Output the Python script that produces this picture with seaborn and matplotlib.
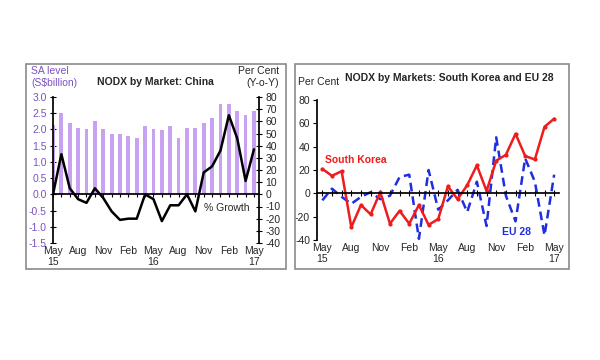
import numpy as np
import pandas as pd
import matplotlib.pyplot as plt
import matplotlib.patches as mpatches
import seaborn as sns

# months May 15 .. May 17
months = list(range(25))
tick_pos = [0, 3, 6, 9, 12, 15, 18, 21, 24]
tick_lab = ['May\n15', 'Aug', 'Nov', 'Feb', 'May\n16', 'Aug', 'Nov', 'Feb', 'May\n17']

# China: level (S$bn) and y-o-y growth (%)
china_level = [2.15, 2.5, 2.2, 2.05, 2.0, 2.25, 2.02, 1.85, 1.85, 1.8, 1.73, 2.12, 2.0,
               1.98, 2.1, 1.75, 2.05, 2.05, 2.2, 2.35, 2.78, 2.78, 2.58, 2.45, 2.58]
china_growth = [0, 33, 5, -4, -7, 5, -3, -14, -21, -20, -20, 0, -4,
                -22, -9, -9, 0, -14, 18, 23, 36, 65, 46, 11, 37]

# South Korea and EU 28 growth (%)
skorea = [21, 15, 19, -29, -10, -18, 1, -26, -15, -26, -10, -27, -22,
          6, -5, 7, 24, 2, 28, 33, 51, 32, 29, 57, 64]
eu28 = [-6, 4, -3, -9, -3, 1, -5, -2, 14, 16, -39, 20, -14,
        -6, 3, -16, 10, -28, 48, -2, -24, 30, 10, -36, 16]

sns.set_theme(style='white')
plt.rcParams['font.family'] = ['Liberation Sans', 'DejaVu Sans']
plt.rcParams['axes.unicode_minus'] = False

purple = '#c8a2f2'
purple_txt = '#7b52c2'
fs = 7.5

fig = plt.figure(figsize=(6, 3.6), dpi=100)
W, H = 600, 360

# grey frames round each panel
for x0, x1 in [(26, 286), (295, 569)]:
    fig.patches.append(mpatches.Rectangle((x0 / W, 1 - 269 / H), (x1 - x0) / W, 205 / H,
                                          transform=fig.transFigure, fill=False,
                                          edgecolor='#8a8a8a', lw=1.2))


def zero_axis(ax, xlim):
    ax.set_xlim(*xlim)
    ax.spines['top'].set_visible(False)
    ax.spines['bottom'].set_position(('data', 0))
    ax.spines['bottom'].set_color('black')
    ax.set_xticks(months)
    ax.tick_params(axis='x', direction='inout', length=4, width=0.8, labelbottom=False,
                   bottom=True, color='black')
    sec = ax.secondary_xaxis(0.0)
    sec.set_xticks(tick_pos, tick_lab)
    sec.spines['bottom'].set_visible(False)
    sec.tick_params(length=0, labelsize=fs, pad=2)
    ax.set_xlabel('')


# ---- left panel: China
ax1 = fig.add_axes([53 / W, 1 - 243 / H, 206 / W, 146 / H])
df_c = pd.DataFrame({'m': months, 'level': china_level, 'growth': china_growth})
sns.barplot(data=df_c, x='m', y='level', color=purple, width=0.45, ax=ax1,
            saturation=1, linewidth=0, edgecolor='none')
ax1.set_ylim(-1.5, 3.0)
ax1.set_yticks(np.arange(-1.5, 3.01, 0.5))
ax1.set_yticklabels([f'{v:.1f}' for v in np.arange(-1.5, 3.01, 0.5)])
ax1.tick_params(axis='y', direction='inout', length=5, width=0.8, labelsize=fs,
                labelcolor=purple_txt, left=True, color='black', pad=2)
ax1.set_ylabel('')
ax1.spines['right'].set_visible(False)
ax1.spines['left'].set_color('black')
zero_axis(ax1, (0, 24.6))

ax1b = ax1.twinx()
sns.lineplot(data=df_c, x='m', y='growth', color='black', lw=1.8, ax=ax1b)
ax1b.set_ylim(-40, 80)
ax1b.set_yticks(range(-40, 81, 10))
ax1b.tick_params(axis='y', direction='inout', length=5, width=0.8, labelsize=fs,
                 right=True, color='black', pad=2)
ax1b.set_ylabel('')
for s in ['top', 'bottom', 'left']:
    ax1b.spines[s].set_visible(False)
ax1b.spines['right'].set_color('black')
ax1b.set_xlim(0, 24.6)
ax1b.text(18.0, -11, '% Growth', fontsize=fs, va='center', ha='left')

fig.text(31 / W, 1 - 77 / H, 'SA level\n(S$billion)', color=purple_txt, fontsize=fs,
         va='center', ha='left', linespacing=1.15)
fig.text(279 / W, 1 - 77 / H, 'Per Cent\n(Y-o-Y)', fontsize=fs, va='center', ha='right',
         linespacing=1.15)
fig.text(155 / W, 1 - 82 / H, 'NODX by Market: China', fontsize=7.5, fontweight='bold',
         va='center', ha='center')

# ---- right panel: South Korea and EU 28
ax2 = fig.add_axes([317 / W, 1 - 240 / H, 242 / W, 140 / H])
df_m = pd.DataFrame({'m': months, 'South Korea': skorea, 'EU 28': eu28})
sns.lineplot(data=df_m, x='m', y='EU 28', color='#1f2ee0', lw=1.8, ax=ax2,
             linestyle=(0, (3.5, 2)))
sns.lineplot(data=df_m, x='m', y='South Korea', color='#ee1c1c', lw=1.8, ax=ax2,
             marker='o', markersize=3, markeredgewidth=0)
ax2.set_ylim(-40, 80)
ax2.set_yticks(range(-40, 81, 20))
ax2.tick_params(axis='y', direction='out', length=3, width=0.8, labelsize=fs,
                left=True, color='black', pad=2)
ax2.set_ylabel('')
ax2.spines['right'].set_visible(False)
ax2.spines['left'].set_color('black')
zero_axis(ax2, (-0.55, 24.5))
ax2.text(0.25, 28.5, 'South Korea', color='#ee1c1c', fontsize=fs, fontweight='bold',
         va='center', ha='left')
ax2.text(18.6, -33, 'EU 28', color='#1f2ee0', fontsize=fs, fontweight='bold',
         va='center', ha='left')

fig.text(298 / W, 1 - 82 / H, 'Per Cent', fontsize=fs, va='center', ha='left')
fig.text(449 / W, 1 - 78 / H, 'NODX by Markets: South Korea and EU 28', fontsize=7.5,
         fontweight='bold', va='center', ha='center')

fig.savefig('out.png', dpi=100, facecolor='white')
